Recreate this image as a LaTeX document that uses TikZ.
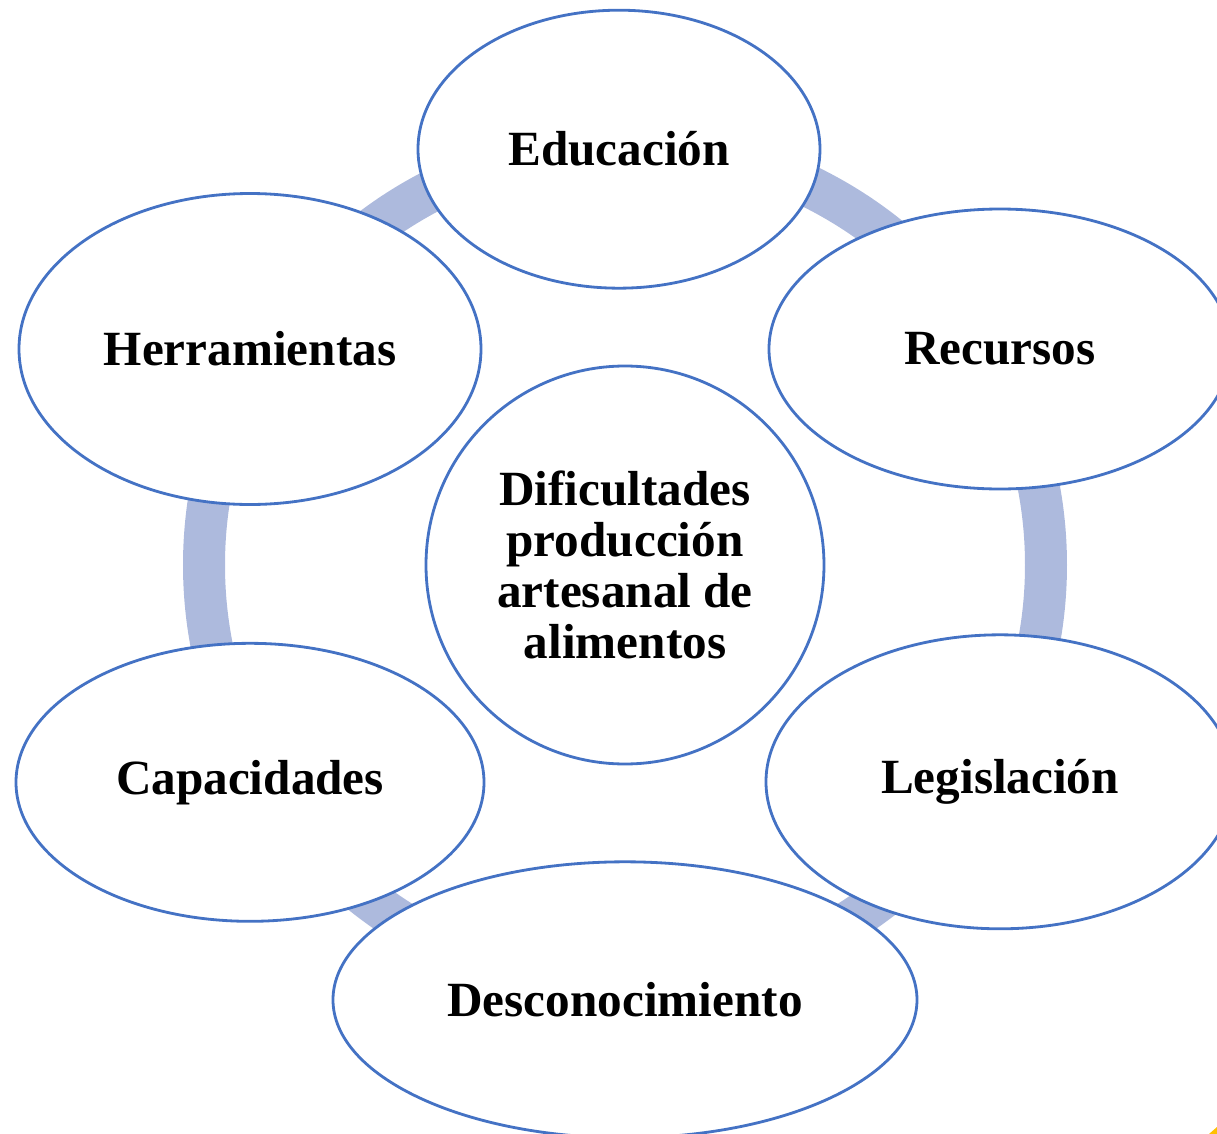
\documentclass[tikz,border=0pt]{standalone}
\usepackage{fontspec}
\setmainfont{Liberation Serif}
\usetikzlibrary{positioning,shapes.geometric}
\definecolor{ringblue}{RGB}{173,186,221}
\definecolor{lineblue}{RGB}{68,114,196}
\definecolor{cornergold}{RGB}{255,192,0}
\begin{document}
\begin{tikzpicture}
 		\tikzstyle{main}=[ellipse, inner sep=0mm, line width=0.8pt, draw=lineblue, fill=white, align=center, font=\fontsize{14}{14.5}\selectfont\bfseries]
 		\tikzstyle{ring}=[line width=4.2mm, draw=ringblue]
 		\clip (0,0) rectangle (12.17,-11.34);
 		\coordinate (o) at (6.25,-5.65);
 		\draw[ring] (o) circle (4.21);
 		\node[main, circle, minimum size=39.8mm] (cen) at (o) {Dificultades\\producción\\artesanal de\\alimentos};
 		\node[main, minimum width=40.2mm, minimum height=27.8mm] (edu) [above=7.5mm of cen, xshift=-0.6mm] {Educación};
 		\node[main, minimum width=58.4mm, minimum height=27.6mm] (desc) [below=9.5mm of cen] {Desconocimiento};
 		\node[main, minimum width=46.2mm, minimum height=28mm] (rec) at (10.00,-3.49) {Recursos};
 		\node[main, minimum width=46.8mm, minimum height=29.4mm] (leg) [below=14.3mm of rec] {Legislación};
 		\node[main, minimum width=46.2mm, minimum height=31.1mm] (her) at (2.50,-3.49) {Herramientas};
 		\node[main, minimum width=46.8mm, minimum height=27.8mm] (cap) [below=13.6mm of her] {Capacidades};
 		\fill[cornergold] (12.17,-11.27) -- (12.17,-11.34) -- (12.09,-11.34) -- cycle;
 		\end{tikzpicture}
\end{document}
